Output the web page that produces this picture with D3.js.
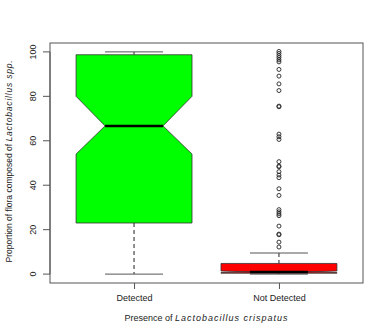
<!DOCTYPE html>
<html>
<head>
<meta charset="utf-8">
<script src="https://cdn.jsdelivr.net/npm/d3@7"></script>
<style>
  body { margin: 0; background: #fff; }
  text { font-family: "Liberation Sans", Arial, sans-serif; fill: #222; }
</style>
</head>
<body>
<script>
// groups and box statistics
let groups = ['Detected', 'Not Detected'];
let whiskerLow  = [0, 0];
let quart1      = [23, 0.4];
let medians     = [66.7, 1.0];
let quart3      = [98.7, 4.8];
let whiskerHigh = [100, 9.5];
let notchLow    = [54, 0.7];
let notchHigh   = [80, 1.4];
let fills = ['#00ff00', '#ff0000'];

// outliers of the "Not Detected" group
let outliers = [100.2, 99.3, 98.3, 97.4, 96.4, 95.5, 92.1, 89.1, 85.6, 82.6,
                75.6, 75.3, 63.0, 61.8, 60.6, 50.6, 48.6, 48.3, 46.1, 44.6,
                43.4, 38.4, 35.4, 29.0, 28.0, 27.1, 26.3, 21.6, 18.0, 17.7,
                14.4, 12.2];

let yTicks = [0, 20, 40, 60, 80, 100];

let width = 390, height = 336;
let mLeft = 50, mRight = 363, mTop = 43, mBottom = 283;

let svg = d3.select('body').append('svg')
  .attr('width', width)
  .attr('height', height);

let x = d3.scaleLinear().domain([0.42, 2.58]).range([mLeft, mRight]);
let y = d3.scaleLinear().domain([-4, 104]).range([mBottom, mTop]);

let g = svg.append('g');

groups.forEach(function(name, i) {
  let c = i + 1;
  let hw = 0.4;     // half box width
  let nw = 0.2;     // notch inset

  // whiskers (dashed)
  g.append('line')
    .attr('x1', x(c)).attr('x2', x(c))
    .attr('y1', y(whiskerHigh[i])).attr('y2', y(quart3[i]))
    .attr('stroke', '#222').attr('stroke-dasharray', '4,3');
  g.append('line')
    .attr('x1', x(c)).attr('x2', x(c))
    .attr('y1', y(quart1[i])).attr('y2', y(whiskerLow[i]))
    .attr('stroke', '#222').attr('stroke-dasharray', '4,3');
  // caps
  [whiskerHigh[i], whiskerLow[i]].forEach(function(v) {
    g.append('line')
      .attr('x1', x(c - 0.2)).attr('x2', x(c + 0.2))
      .attr('y1', y(v)).attr('y2', y(v))
      .attr('stroke', '#555').attr('stroke-width', 1);
  });

  // notched box
  let pts = [
    [c - hw, quart1[i]], [c - hw, notchLow[i]], [c - hw + nw, medians[i]],
    [c - hw, notchHigh[i]], [c - hw, quart3[i]], [c + hw, quart3[i]],
    [c + hw, notchHigh[i]], [c + hw - nw, medians[i]], [c + hw, notchLow[i]],
    [c + hw, quart1[i]]
  ];
  g.append('path')
    .attr('d', d3.line().x(d => x(d[0])).y(d => y(d[1]))(pts) + 'Z')
    .attr('fill', fills[i])
    .attr('stroke', '#333')
    .attr('stroke-width', 0.8);

  // median
  g.append('line')
    .attr('x1', x(c - hw + nw)).attr('x2', x(c + hw - nw))
    .attr('y1', y(medians[i])).attr('y2', y(medians[i]))
    .attr('stroke', '#000').attr('stroke-width', 2.5);
});

// outlier points
g.selectAll('circle.out')
  .data(outliers)
  .enter().append('circle')
  .attr('class', 'out')
  .attr('cx', x(2))
  .attr('cy', d => y(d))
  .attr('r', 2)
  .attr('fill', 'none')
  .attr('stroke', '#222')
  .attr('stroke-width', 0.9);

// frame
svg.append('rect')
  .attr('x', mLeft).attr('y', mTop)
  .attr('width', mRight - mLeft).attr('height', mBottom - mTop)
  .attr('fill', 'none').attr('stroke', '#555');

// y axis
let yAxis = d3.axisLeft(y).tickValues(yTicks).tickSize(7).tickPadding(3);
let ya = svg.append('g')
  .attr('transform', 'translate(' + mLeft + ',0)')
  .call(yAxis);
ya.select('.domain').attr('d', 'M0,' + y(0) + 'V' + y(100)).attr('stroke', '#555');
ya.selectAll('.tick').attr('transform', null);
ya.selectAll('.tick line')
  .attr('y1', y).attr('y2', y)
  .attr('stroke', '#555');
ya.selectAll('.tick text')
  .attr('font-size', 9)
  .attr('font-family', '"Liberation Sans", Arial, sans-serif')
  .attr('fill', '#222')
  .attr('x', -17)
  .attr('y', y)
  .attr('dy', '0.35em')
  .attr('text-anchor', 'middle')
  .attr('transform', d => 'rotate(-90,-17,' + y(d) + ')');

// x axis
let xAxis = d3.axisBottom(x).tickValues([1, 2]).tickFormat((d, i) => groups[i])
  .tickSize(6).tickPadding(6);
let xa = svg.append('g')
  .attr('transform', 'translate(0,' + mBottom + ')')
  .call(xAxis);
xa.select('.domain').remove();
xa.selectAll('.tick line').attr('stroke', '#555');
xa.selectAll('.tick text')
  .attr('font-size', 9)
  .attr('font-family', '"Liberation Sans", Arial, sans-serif')
  .attr('fill', '#222');

// axis titles
let xt = svg.append('text')
  .attr('x', (mLeft + mRight) / 2)
  .attr('y', 321)
  .attr('text-anchor', 'middle')
  .attr('font-size', 9);
xt.append('tspan').text('Presence of ');
xt.append('tspan').attr('font-style', 'italic').attr('letter-spacing', 1).text('Lactobacillus crispatus');

let yt = svg.append('text')
  .attr('transform', 'translate(12,' + 161 + ') rotate(-90)')
  .attr('text-anchor', 'middle')
  .attr('font-size', 8.5);
yt.append('tspan').text('Proportion of flora composed of ');
yt.append('tspan').attr('font-style', 'italic').attr('letter-spacing', 0.8).text('Lactobacillus spp.');
</script>
</body>
</html>
